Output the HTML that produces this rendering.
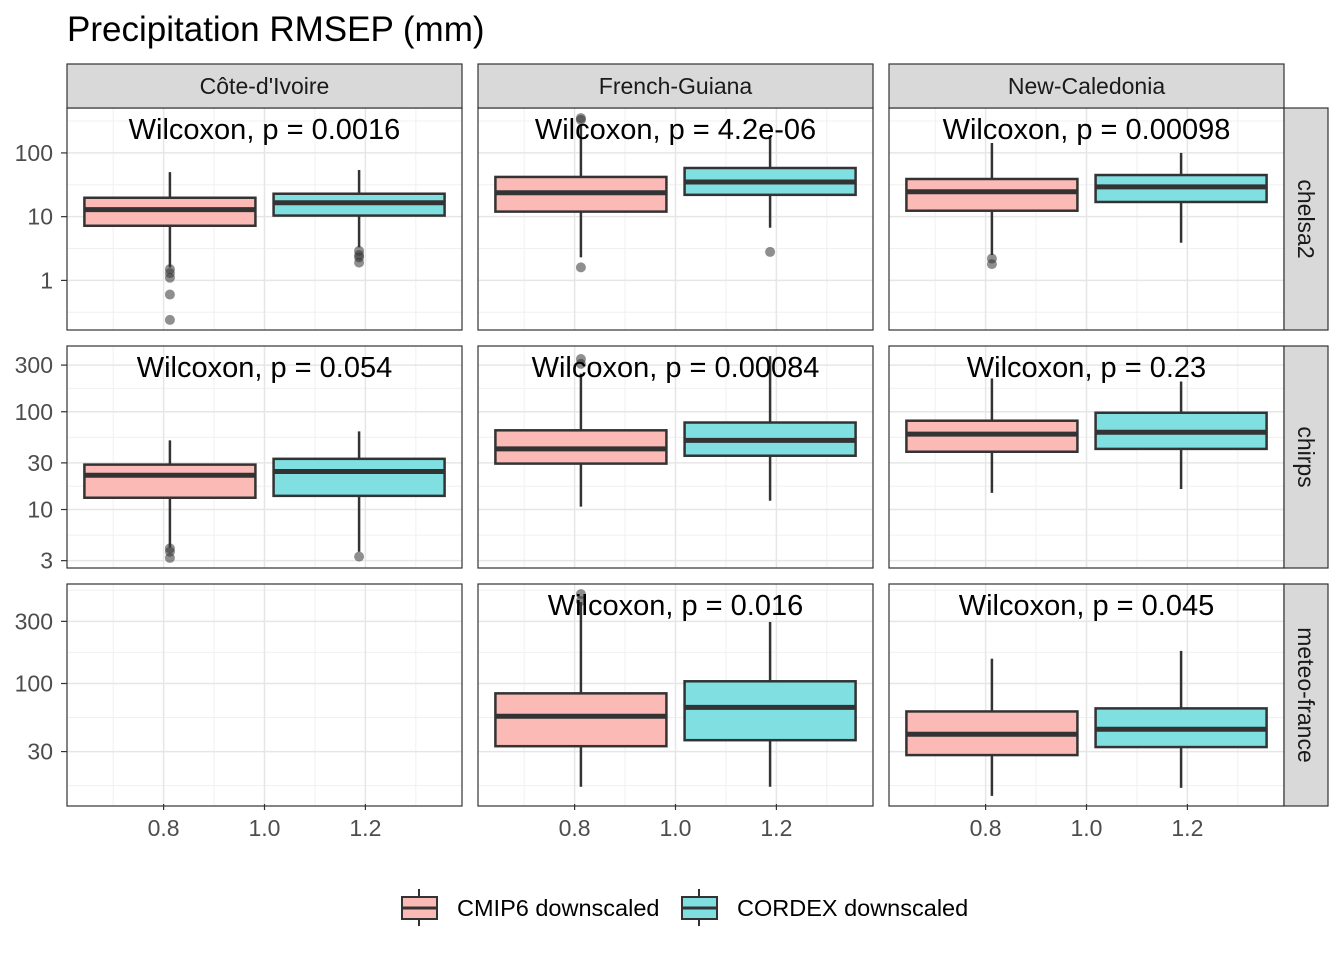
<!DOCTYPE html>
<html><head><meta charset="utf-8">
<style>
body{margin:0;background:#fff;}
svg text{font-family:"Liberation Sans",Arial,sans-serif;}
</style></head>
<body>
<svg id="chart" width="1344" height="960" xmlns="http://www.w3.org/2000/svg">
<text x="67" y="41" font-size="35" fill="#000">Precipitation RMSEP (mm)</text>
<g id="plots"></g>
<g id="legend">
  <g>
    <line x1="419" y1="889" x2="419" y2="926" stroke="#333" stroke-width="2"/>
    <rect x="402" y="897" width="35" height="22" fill="#FBBAB6" stroke="#333" stroke-width="2"/>
    <line x1="402" y1="908" x2="437" y2="908" stroke="#333" stroke-width="3"/>
    <text x="457" y="916" font-size="23.5" fill="#000">CMIP6 downscaled</text>
  </g>
  <g>
    <line x1="699" y1="889" x2="699" y2="926" stroke="#333" stroke-width="2"/>
    <rect x="682" y="897" width="35" height="22" fill="#7FDFE1" stroke="#333" stroke-width="2"/>
    <line x1="682" y1="908" x2="717" y2="908" stroke="#333" stroke-width="3"/>
    <text x="737" y="916" font-size="23.5" fill="#000">CORDEX downscaled</text>
  </g>
</g>
</svg>
<script>
const columns = ["Côte-d'Ivoire","French-Guiana","New-Caledonia"];
const rows = ["chelsa2","chirps","meteo-france"];
const rowTicks = [[1,10,100],[3,10,30,100,300],[30,100,300]];
const pLabels = [
  ["Wilcoxon, p = 0.0016","Wilcoxon, p = 4.2e-06","Wilcoxon, p = 0.00098"],
  ["Wilcoxon, p = 0.054","Wilcoxon, p = 0.00084","Wilcoxon, p = 0.23"],
  [null,"Wilcoxon, p = 0.016","Wilcoxon, p = 0.045"]
];
// [lowWhisker, q1, median, q3, highWhisker]
const cmip6Stats = [
  [[1.6,7.2,12.9,19.8,50],[2.3,12,23.7,42,274],[2.5,12.4,24.6,39,143]],
  [[4.1,13.2,22.4,28.8,51],[10.7,29.5,41.7,64.6,245],[14.8,39,59,81,219]],
  [null,[16.1,33,56,84,423],[13.7,28.2,40.8,61,155]]
];
const cordexStats = [
  [[3.3,10.4,16.5,22.9,54],[6.7,22,35,58,184],[3.9,17,29.4,45,100]],
  [[3.7,13.8,24.5,33,63],[12.3,35.5,51,77.6,371],[16.2,41.7,61.7,97.7,204]],
  [null,[16.1,36.7,65.6,104,297],[15.8,32.5,44.5,64.4,178]]
];
const cmip6Outliers = [
  [[1.5,1.3,1.1,0.6,0.24],[352,330,1.6],[2.2,1.8]],
  [[4.0,3.7,3.2],[346,309],[]],
  [[],[486,430],[]]
];
const cordexOutliers = [
  [[2.9,2.5,2.3,1.9],[2.8],[]],
  [[3.3],[],[]],
  [[],[],[]]
];
const xTicks = [0.8,1.0,1.2];

const NS="http://www.w3.org/2000/svg";
const g=document.getElementById('plots');
function el(tag,attrs,parent){const e=document.createElementNS(NS,tag);for(const k in attrs)e.setAttribute(k,attrs[k]);(parent||g).appendChild(e);return e;}
const colX=[67,478,889], panelW=395;
const rowY=[108,346,584], panelH=222;
function xScale(c,v){return colX[c]+(v-0.6085)/(1.3915-0.6085)*panelW;}
const domains=rows.map((r,ri)=>{
  let vals=[];
  for(let c=0;c<3;c++){
    if(cmip6Stats[ri][c])vals=vals.concat(cmip6Stats[ri][c]);
    if(cordexStats[ri][c])vals=vals.concat(cordexStats[ri][c]);
    vals=vals.concat(cmip6Outliers[ri][c],cordexOutliers[ri][c]);
  }
  const lo=Math.log10(Math.min(...vals)),hi=Math.log10(Math.max(...vals)),s=hi-lo;
  return [lo-0.05*s,hi+0.05*s];
});
function yScale(r,v){const [a,b]=domains[r];return rowY[r]+panelH-(Math.log10(v)-a)/(b-a)*panelH;}

for(let r=0;r<3;r++){
  for(let c=0;c<3;c++){
    const x0=colX[c],y0=rowY[r];
    const pg=el('g',{});
    
    
    el('rect',{x:x0,y:y0,width:panelW,height:panelH,fill:'#fff'},pg);
    const tk=rowTicks[r];
    const minors=[];
    for(let i=0;i<tk.length-1;i++)minors.push(Math.sqrt(tk[i]*tk[i+1]));
    minors.push(tk[tk.length-1]*Math.sqrt(tk[tk.length-1]/tk[tk.length-2]));
    minors.push(tk[0]/Math.sqrt(tk[1]/tk[0]));
    minors.forEach(m=>{const y=yScale(r,m);if(y>y0&&y<y0+panelH)el('line',{x1:x0,x2:x0+panelW,y1:y,y2:y,stroke:'#f0f0f0','stroke-width':1},pg);});
    [0.7,0.9,1.1,1.3].forEach(v=>{const x=xScale(c,v);el('line',{x1:x,x2:x,y1:y0,y2:y0+panelH,stroke:'#f0f0f0','stroke-width':1},pg);});
    tk.forEach(t=>{const y=yScale(r,t);el('line',{x1:x0,x2:x0+panelW,y1:y,y2:y,stroke:'#e6e6e6','stroke-width':1.5},pg);});
    xTicks.forEach(v=>{const x=xScale(c,v);el('line',{x1:x,x2:x,y1:y0,y2:y0+panelH,stroke:'#e6e6e6','stroke-width':1.5},pg);});
    const series=[[cmip6Stats,cmip6Outliers,0.8125,'#FBBAB6','cmip6'],[cordexStats,cordexOutliers,1.1875,'#7FDFE1','cordex']];
    series.forEach(([st,out,cx,fill,nm])=>{
      const s=st[r][c]; if(!s)return;
      const bx=xScale(c,cx), hw=0.1695*panelW/(1.3915-0.6085);
      const bg=el('g',{},pg);
      
      
      el('line',{x1:bx,x2:bx,y1:yScale(r,s[0]),y2:yScale(r,s[1]),stroke:'#333','stroke-width':2.5},bg);
      el('line',{x1:bx,x2:bx,y1:yScale(r,s[3]),y2:yScale(r,s[4]),stroke:'#333','stroke-width':2.5},bg);
      el('rect',{x:bx-hw,y:yScale(r,s[3]),width:2*hw,height:yScale(r,s[1])-yScale(r,s[3]),fill:fill,stroke:'#333','stroke-width':2.5},bg);
      el('line',{x1:bx-hw,x2:bx+hw,y1:yScale(r,s[2]),y2:yScale(r,s[2]),stroke:'#333','stroke-width':5},bg);
      out[r][c].forEach(o=>{
        const d=el('circle',{cx:bx,cy:yScale(r,o),r:5,fill:'#333','fill-opacity':0.55},bg);
        
        
      });
    });
    el('rect',{x:x0,y:y0,width:panelW,height:panelH,fill:'none',stroke:'#333','stroke-width':1.2},pg);
    if(pLabels[r][c]){
      const t=el('text',{x:x0+panelW/2,y:y0+31,'text-anchor':'middle','font-size':29,fill:'#000'},pg);
      t.textContent=pLabels[r][c];
      
      
    }
  }
  rowTicks[r].forEach(t=>{
    const y=yScale(r,t);
    el('line',{x1:61,x2:67,y1:y,y2:y,stroke:'#333','stroke-width':1.2});
    const tx=el('text',{x:53,y:y+8,'text-anchor':'end','font-size':23,fill:'#4d4d4d'});
    tx.textContent=t;
    
    
  });
  const sg=el('g',{});
  
  
  el('rect',{x:1284,y:rowY[r],width:44,height:panelH,fill:'#d9d9d9',stroke:'#333','stroke-width':1.2},sg);
  const st=el('text',{x:1298,y:rowY[r]+panelH/2,'text-anchor':'middle','font-size':23,fill:'#1a1a1a',transform:'rotate(90 1298 '+(rowY[r]+panelH/2)+')'},sg);
  st.textContent=rows[r];
}
for(let c=0;c<3;c++){
  const sg=el('g',{});
  
  
  el('rect',{x:colX[c],y:64,width:panelW,height:44,fill:'#d9d9d9',stroke:'#333','stroke-width':1.2},sg);
  const t=el('text',{x:colX[c]+panelW/2,y:94,'text-anchor':'middle','font-size':23,fill:'#1a1a1a'},sg);
  t.textContent=columns[c];
  xTicks.forEach(v=>{
    const x=xScale(c,v);
    el('line',{x1:x,x2:x,y1:804,y2:810,stroke:'#333','stroke-width':1.2});
    const tx=el('text',{x:x,y:836,'text-anchor':'middle','font-size':23,fill:'#4d4d4d'});
    tx.textContent=v.toFixed(1);
    
    
  });
}
</script>
</body></html>
